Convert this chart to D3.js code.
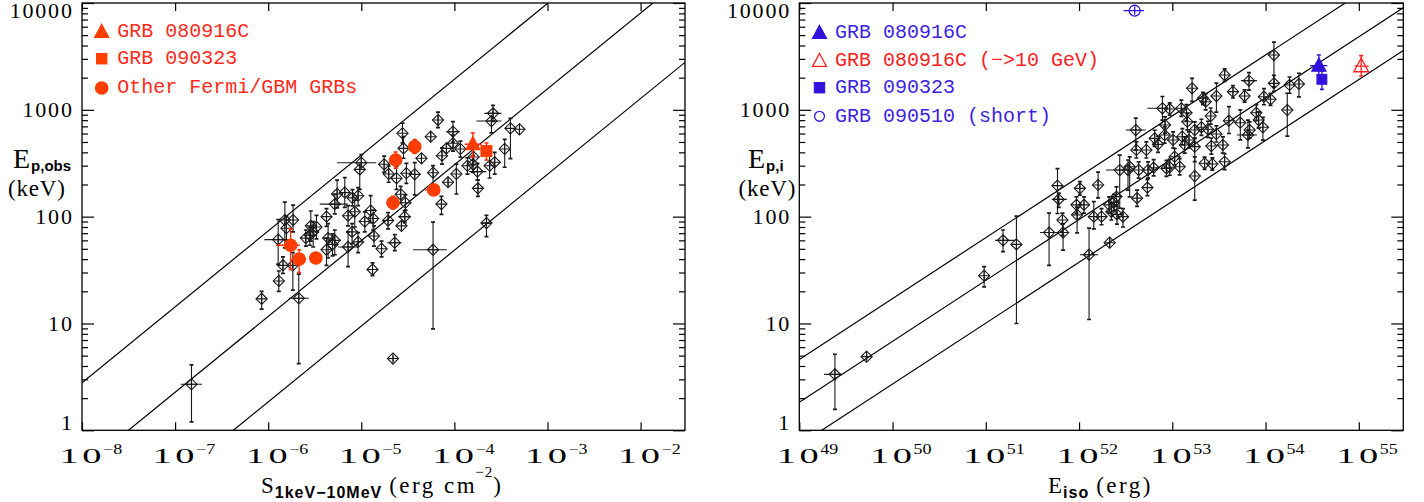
<!DOCTYPE html>
<html><head><meta charset="utf-8">
<script src="https://cdn.jsdelivr.net/npm/d3@7"></script>
<style>body{margin:0;background:#fff}svg{display:block}</style>
</head><body>
<svg id="c" width="1424" height="502"></svg>
<script>
// ---------------- DATA ----------------
// rows: [x, y, yLow, yHigh, xLow, xHigh]  (0 = no x error)
const leftGRBs = [
 [1.5e-7,2.7,1.2,4.1,1.15e-7,1.95e-7],[8.5e-7,17,13.6,20,0,0],[1.3e-6,25,20,31,0,0],[1.44e-6,35,29.5,42,0,0],
 [1.84e-6,35,20.5,46,0,0],[2.13e-6,17.2,4.2,29,1.66e-6,2.73e-6],[1.28e-6,61,36,94,9.1e-7,1.68e-6],[1.51e-6,93,51,137,0,0],
 [1.85e-6,93,72,128,0,0],[1.57e-6,78,60,101,0,0],[2.87e-6,82,59,113,0,0],[3.3e-6,80,62,103,0,0],
 [3.04e-6,72,52,90,0,0],[2.8e-6,67,54,80,0,0],[2.54e-6,63,53,75,0,0],[4.23e-6,100,81,119,0,0],
 [5.19e-6,131,106,162,3.58e-6,7.16e-6],[5.5e-6,163,121,220,0,0],[6.65e-6,168,122,232,0,0],[8.04e-6,150,126,179,0,0],
 [9.24e-6,157,127,187,0,0],[8.51e-6,111,80,143,0,0],[7.21e-6,102,82,127,0,0],[9.63e-6,277,180,310,0,0],
 [1.0e-5,320,288,381,5.5e-6,1.45e-5],[1.76e-5,309,260,368,0,0],[1.97e-5,251,210,298,0,0],[1.26e-5,114,88,157,0,0],
 [1.34e-5,96,75,115,0,0],[1.09e-5,90,72,111,0,0],[1.94e-5,92,77,109,0,0],[7.96e-6,72,56,86,0,0],
 [4.4e-6,63,41,86,0,0],[5.19e-6,60,44,75,0,0],[4.91e-6,55,43,69,0,0],[4.23e-6,49,35,63,0,0],
 [1.37e-5,66,53,82,0,0],[7.21e-6,52,34,72,5.6e-6,9.2e-6],[9.24e-6,58,46,71,0,0],[1.65e-5,50,42,59,0,0],
 [1.32e-5,32,28,37,0,0],[2.19e-5,4.7,4.4,5.05,0,0],
 [2.6e-4,927,780,1100,2.1e-4,3.2e-4],[2.5e-4,785,608,871,1.72e-4,3.2e-4],[6.67e-5,803,680,950,0,0],[9.66e-5,624,500,775,8.1e-5,1.15e-4],
 [2.77e-5,603,490,750,0,0],[5.57e-5,560,505,620,0,0],[4.0e-4,671,350,830,0,0],[5.0e-4,657,615,700,0,0],
 [2.84e-5,436,352,562,0,0],[9.66e-5,486,410,580,0,0],[8.21e-5,436,390,485,0,0],[7.36e-5,372,310,440,0,0],
 [4.43e-5,352,315,390,0,0],[1.16e-4,430,360,510,0,0],[3.47e-4,430,290,530,0,0],[1.38e-4,300,250,355,0,0],
 [1.58e-4,309,260,368,0,0],[1.77e-4,264,220,315,1.45e-4,2.2e-4],[2.39e-4,300,230,390,0,0],[2.71e-4,323,250,400,0,0],
 [5.9e-5,258,200,300,0,0],[1.05e-4,251,163,310,0,0],[8.55e-5,210,190,232,0,0],[3.75e-5,249,160,320,0,0],
 [3.05e-5,255,205,315,0,0],[2.39e-5,229,180,295,0,0],[1.79e-4,184,155,220,0,0],[2.65e-5,162,135,192,0,0],
 [7.26e-5,131,105,155,0,0],[2.98e-5,135,115,160,0,0],[2.93e-5,100,88,114,2.5e-5,3.4e-5],[2.7e-5,82,73,92,0,0],
 [2.21e-4,87,65,103,1.95e-4,2.5e-4],[2.29e-5,57,48,68,1.9e-5,2.7e-5],[5.9e-5,49,8.9,89,3.6e-5,8.3e-5],[1.61e-4,362,305,430,0,0]
];
const leftGBM = [
 [3.75e-5,452,390,525,0,0],[2.34e-5,339,285,403,0,0],[2.19e-5,135,118,155,0,0],[6.0e-5,178,165,195,4.8e-5,7.0e-5],
 [1.74e-6,54,32,77,1.21e-6,2.19e-6],[2.15e-6,40,30,49,1.71e-6,2.58e-6],[3.25e-6,41,38,43.5,0,0]
];
const left080916C = [[1.58e-4,476,362,607,1.29e-4,1.96e-4]];
const left090323  = [[2.21e-4,411,339,489,1.97e-4,2.5e-4]];

const rightGRBs = [
 [2.41e49,3.34,1.57,5.15,1.84e49,2.94e49],[5.27e49,4.89,4.57,5.24,0,0],[9.6e50,28,22,34,0,0],[1.53e51,60,47,75,1.26e51,2.06e51],
 [2.13e51,55,10,101,0,0],[4.77e51,71,35,108,3.82e51,5.96e51],[6.74e51,71,48.5,86,0,0],[5.87e51,195,107,281,0,0],
 [6.06e51,145,122,166,5.1e51,7.4e51],[6.64e51,93,67,108,0,0],[1.02e52,184,159,213,0,0],[9.38e51,129,108,153,0,0],
 [1.13e52,129,108,153,0,0],[9.53e51,104,70.5,123,0,0],[1.6e52,198,150,261,0,0],[1.44e52,100,77,138,0,0],
 [1.74e52,100,84,119,0,0],[1.28e52,44,10.9,78,1.02e52,1.6e52],[2.13e52,57,51,63,0,0],[2.1e52,129,108,153,0,0],
 [2.37e52,136,114,162,0,0],[2.52e52,154,129,190,0,0],[2.22e52,111,93,132,0,0],[2.55e52,105,85,125,0,0],
 [2.96e52,100,80,119,0,0],[2.73e52,273,120,377,1.94e52,3.5e52],[3.35e52,273,177,339,0,0],[3.49e52,293,153,363,0,0],
 [4.36e52,273,229,325,0,0],[5.49e52,273,229,325,0,0],[6.31e52,287,241,342,0,0],[5.41e52,187,157,222,0,0],
 [4.19e52,149,125,177,0,0],[4.06e52,647,420,835,3.17e52,5.2e52],[4.12e52,421,354,501,0,0],[5.27e52,421,354,501,0,0],
 [6.47e52,541,455,644,0,0],[7.03e52,475,399,566,0,0],[8.28e52,581,488,691,0,0],[7.83e52,1033,800,1333,5.4e52,8.85e52],
 [8.65e52,283,238,337,0,0],[8.36e52,721,606,858,0,0],[1.23e54,3260,1640,4300,0,0],[3.64e53,2118,1850,2420,0,0],
 [6.64e53,1875,1530,2230,5.44e53,8.1e53],[1.23e54,1770,1490,2100,0,0],[1.63e53,1590,1200,1970,0,0],[2.97e53,1347,950,1780,0,0],
 [4.47e53,1479,1290,1690,0,0],[5.96e53,1347,1180,1540,0,0],[9.6e53,1327,1115,1580,0,0],[1.13e54,1254,1100,1430,0,0],
 [1.81e54,1708,1430,2030,0,0],[2.28e54,1745,1320,2200,0,0],[2.13e53,1282,1120,1460,0,0],[2.28e53,1191,1000,1420,0,0],
 [9.38e52,1018,890,1160,0,0],[1.25e53,1033,868,1230,0,0],[1.42e53,939,790,1120,0,0],[1.45e53,774,650,921,0,0],
 [2.58e53,875,735,1040,0,0],[4.05e53,791,600,1070,0,0],[5.36e53,757,523,1000,0,0],[7.96e53,939,790,1120,0,0],
 [8.43e53,803,675,955,0,0],[6.75e53,647,544,770,0,0],[6.47e53,581,440,802,4.94e53,8.1e53],[9.37e53,686,520,850,0,0],
 [1.71e54,995,568,1430,0,0],[1.74e53,647,544,770,0,0],[2.05e53,686,577,816,0,0],[2.41e53,657,552,782,0,0],
 [2.97e53,594,500,707,0,0],[1.28e53,560,471,666,0,0],[1.51e53,522,439,621,0,0],[1.02e53,522,439,621,0,0],
 [1.74e53,452,327,538,0,0],[1.36e53,469,394,558,0,0],[2.62e53,458,385,545,0,0],[3.49e53,469,394,558,0,0],
 [1.06e53,364,306,433,0,0],[9.38e52,290,244,345,0,0],[1.2e53,293,246,349,0,0],[2.22e53,316,277,360,0,0],
 [2.69e53,311,273,355,0,0],[3.64e53,327,275,389,0,0],[1.74e53,240,143,362,0,0]
];
const right080916C      = [[3.73e54,2588,2080,3260,3.0e54,4.6e54]];
const right080916C10GeV = [[1.06e55,2570,2074,3210,9.0e54,1.28e55]];
const right090323       = [[4.02e54,1931,1556,2300,0,0]];
const right090510       = [[3.95e52,8470,7750,9260,3.0e52,4.98e52]];

// correlation lines: log Ep = log(norm) + slope*log(x/pivot) + offset
const fitLeft  = {norm:306, pivot:1e-4, slope:0.71, offsets:[-0.8,0,0.8]};
const fitRight = {norm:94,  pivot:1e52, slope:0.57, offsets:[-0.4,0,0.4]};

const yTickValues = [1,10,100,1000,10000];
const yTickLabels = ["1","10","100","1000","10000"];
const xExpLeft  = [-8,-7,-6,-5,-4,-3,-2];
const xExpRight = [49,50,51,52,53,54,55];

const legendLeft = [
  {sym:"tri", fill:true, col:"#ff3d00", text:"GRB 080916C", tcol:"#ff2a1a"},
  {sym:"sq", fill:true, col:"#ff3d00", text:"GRB 090323", tcol:"#ff2a1a"},
  {sym:"circ", fill:true, col:"#ff3d00", text:"Other Fermi/GBM GRBs", tcol:"#ff2a1a"}
];
const legendRight = [
  {sym:"tri", fill:true, col:"#3311dd", text:"GRB 080916C", tcol:"#3d1fe6"},
  {sym:"tri", fill:false, col:"#ff2020", text:"GRB 080916C (\u2212>10 GeV)", tcol:"#ff2020"},
  {sym:"sq", fill:true, col:"#3311dd", text:"GRB 090323", tcol:"#3d1fe6"},
  {sym:"circ", fill:false, col:"#3311dd", text:"GRB 090510 (short)", tcol:"#3d1fe6"}
];

// ---------------- DRAW ----------------
const SERIF = "'Liberation Serif','Times New Roman',serif";
const SANSB = "'Liberation Sans',Arial,sans-serif";
const MONO  = "'Liberation Mono','Courier New',monospace";
const svg = d3.select("#c");
const Y0 = 3, Y1 = 430.3;
const yS = d3.scaleLog().domain([1,1e4]).range([Y1,Y0]);

function triPath(x,y,w,h){return `M${x},${y-h*0.58}L${x+w/2},${y+h*0.42}L${x-w/2},${y+h*0.42}Z`;}
function symbol(g,sym,x,y,fill,col,scale){
  scale = scale||1;
  if(sym==="tri") g.append("path").attr("d",triPath(x,y,14*scale,13*scale))
     .attr("fill",fill?col:"none").attr("stroke",col).attr("stroke-width",1.3);
  else if(sym==="sq") g.append("rect").attr("x",x-5.5*scale).attr("y",y-5.5*scale).attr("width",11*scale).attr("height",11*scale)
     .attr("fill",fill?col:"none").attr("stroke",col).attr("stroke-width",1);
  else g.append("circle").attr("cx",x).attr("cy",y).attr("r",(fill?6.2:5.2)*scale)
     .attr("fill",fill?col:"none").attr("stroke",col).attr("stroke-width",1.3);
}

function panel(cfg){
  const x0 = cfg.x0, x1 = cfg.x1;
  const xS = d3.scaleLog().domain(cfg.xDomain).range([x0,x1]);
  const g = svg.append("g");
  const id = "clip"+cfg.name;
  svg.append("clipPath").attr("id",id).append("rect").attr("x",x0).attr("y",Y0).attr("width",x1-x0).attr("height",Y1-Y0);

  // fit lines
  const fl = cfg.fit;
  const lineG = g.append("g").attr("clip-path",`url(#${id})`);
  const lg = d3.line().x(d=>xS(d[0])).y(d=>yS(d[1]));
  fl.offsets.forEach(off=>{
    const pts = cfg.xDomain.map(xv=>[xv, fl.norm*Math.pow(xv/fl.pivot, fl.slope)*Math.pow(10,off)]);
    lineG.append("path").attr("d",lg(pts)).attr("fill","none").attr("stroke","#000").attr("stroke-width",1.2);
  });

  // axes ticks (inward)
  const majorsX = cfg.xExp.map(e=>Math.pow(10,e));
  const minorsY = [];
  for(let d=1; d<1e4; d*=10) for(let k=2;k<10;k++) minorsY.push(d*k);
  function styleAxis(sel){ sel.select(".domain").remove(); sel.selectAll("line").attr("stroke","#000").attr("stroke-width",1.2); sel.selectAll("text").remove(); }
  g.append("g").attr("transform",`translate(0,${Y1})`).call(d3.axisBottom(xS).tickValues(majorsX).tickSize(-8).tickFormat("")).call(styleAxis);
  g.append("g").attr("transform",`translate(0,${Y0})`).call(d3.axisTop(xS).tickValues(majorsX).tickSize(-8).tickFormat("")).call(styleAxis);
  g.append("g").attr("transform",`translate(${x0},0)`).call(d3.axisLeft(yS).tickValues(yTickValues).tickSize(-12).tickFormat("")).call(styleAxis);
  g.append("g").attr("transform",`translate(${x0},0)`).call(d3.axisLeft(yS).tickValues(minorsY).tickSize(-6).tickFormat("")).call(styleAxis);
  g.append("g").attr("transform",`translate(${x1},0)`).call(d3.axisRight(yS).tickValues(yTickValues).tickSize(-12).tickFormat("")).call(styleAxis);
  g.append("g").attr("transform",`translate(${x1},0)`).call(d3.axisRight(yS).tickValues(minorsY).tickSize(-6).tickFormat("")).call(styleAxis);

  // frame
  g.append("rect").attr("x",x0).attr("y",Y0).attr("width",x1-x0).attr("height",Y1-Y0)
   .attr("fill","none").attr("stroke","#000").attr("stroke-width",1.3);

  // y tick labels
  yTickValues.forEach((v,i)=>{
    let base = yS(v)+7.5;
    base = Math.max(18, Math.min(Y1, base));
    g.append("text").attr("x",x0-8.3).attr("y",base).attr("text-anchor","end")
     .attr("font-family",SERIF).attr("font-size",22).attr("letter-spacing","1.8px").text(yTickLabels[i]);
  });
  // x tick labels 10^e  ("10" centred on the tick, exponent after it)
  cfg.xExp.forEach(e=>{
    const xv = xS(Math.pow(10,e));
    g.append("text").attr("transform",`translate(${xv-22.5},463) scale(1.75,1)`)
     .attr("font-family",SERIF).attr("font-size",22).attr("letter-spacing","2px").text("10");
    const sup = (e<0?"\u2212":"")+Math.abs(e);
    g.append("text").attr("transform",`translate(${xv+21},453.5) scale(1.2,1)`)
     .attr("font-family",SERIF).attr("font-size",15).text(sup);
  });

  // data points
  const pg = g.append("g").attr("clip-path",`url(#${id})`);
  function errBars(data,col,sw,cross){
    data.forEach(d=>{
      const cx = xS(d[0]), cy = yS(d[1]);
      const yl = yS(d[2]), yh = yS(d[3]);
      pg.append("line").attr("x1",cx).attr("x2",cx).attr("y1",yl).attr("y2",yh).attr("stroke",col).attr("stroke-width",sw);
      [yl,yh].forEach(yy=>{ if(Math.abs(yy-cy)>5.5) pg.append("line").attr("x1",cx-2).attr("x2",cx+2).attr("y1",yy).attr("y2",yy).attr("stroke",col).attr("stroke-width",1.7); });
      if(d[4]>0) pg.append("line").attr("x1",xS(d[4])).attr("x2",xS(d[5])).attr("y1",cy).attr("y2",cy).attr("stroke",col).attr("stroke-width",sw);
      if(cross){
        pg.append("line").attr("x1",cx-5.5).attr("x2",cx+5.5).attr("y1",cy).attr("y2",cy).attr("stroke",col).attr("stroke-width",sw);
        pg.append("line").attr("x1",cx).attr("x2",cx).attr("y1",cy-5.5).attr("y2",cy+5.5).attr("stroke",col).attr("stroke-width",sw);
      }
    });
  }
  errBars(cfg.main,"#1a1a1a",1.1,true);
  cfg.main.forEach(d=>{
    const cx = xS(d[0]), cy = yS(d[1]), r = 5.6;
    pg.append("path").attr("d",`M${cx},${cy-r}L${cx+r},${cy}L${cx},${cy+r}L${cx-r},${cy}Z`)
      .attr("fill","none").attr("stroke","#1a1a1a").attr("stroke-width",1.1);
  });
  cfg.specials.forEach(s=>{
    errBars(s.data, s.ecol, 1.3, false);
    s.data.forEach(d=>symbol(pg, s.sym, xS(d[0]), yS(d[1]), s.fill, s.col, s.scale));
  });

  // legend
  cfg.legend.forEach((L,i)=>{
    const ly = cfg.legY[i];
    symbol(g, L.sym, cfg.legX, ly, L.fill, L.col, L.sym==="circ"&&!L.fill?0.95:(L.sym==="sq"?0.95:1));
    g.append("text").attr("x",cfg.legX+15.5).attr("y",ly+5.3).attr("font-family",MONO).attr("font-size",20)
     .attr("fill",L.tcol).text(L.text);
  });

  // axis titles
  const yt = g.append("text").attr("font-family",SERIF);
  yt.append("tspan").attr("x",cfg.ytx).attr("y",167.7).attr("font-size",28).text("E");
  yt.append("tspan").attr("dx",1).attr("y",171).attr("font-family",SANSB).attr("font-weight","bold").attr("font-size",15).text(cfg.ysub);
  g.append("text").attr("x",cfg.ykx).attr("y",196).attr("font-family",SERIF).attr("font-size",23).attr("letter-spacing","0.8px").text("(keV)");

  const xt = g.append("text").attr("font-family",SERIF).attr("font-size",23);
  xt.append("tspan").attr("x",cfg.xtx).attr("y",492.7).text(cfg.xmain);
  xt.append("tspan").attr("dx",1).attr("y",497.5).attr("font-family",SANSB).attr("font-weight","bold").attr("font-size",16).attr("letter-spacing","1px").text(cfg.xsub);
  xt.append("tspan").attr("dx",7).attr("y",492.7).attr("letter-spacing","2.5px").text(cfg.xunit);
  if(cfg.xsup) xt.append("tspan").attr("dx",-2).attr("y",476.5).attr("font-size",15).attr("letter-spacing","1px").text(cfg.xsup);
  if(cfg.xunit2) xt.append("tspan").attr("dx",0).attr("y",492.7).text(cfg.xunit2);
}

panel({name:"L", x0:82, x1:685, xDomain:[1e-8,3e-2], xExp:xExpLeft, fit:fitLeft, main:leftGRBs,
  specials:[
    {data:leftGBM, sym:"circ", fill:true, col:"#ff3d00", ecol:"#ff2a00"},
    {data:left080916C, sym:"tri", fill:true, col:"#ff3d00", ecol:"#ff2a00", scale:1},
    {data:left090323, sym:"sq", fill:true, col:"#ff3d00", ecol:"#ff2a00", scale:1}
  ],
  legend:legendLeft, legX:101.7, legY:[32,58.7,88],
  ytx:13, ysub:"p,obs", ykx:8, xtx:261, xmain:"S", xsub:"1keV\u221210MeV", xunit:"(erg cm", xsup:"\u22122", xunit2:")"
});
panel({name:"R", x0:799.3, x1:1403.3, xDomain:[1e49,3e55], xExp:xExpRight, fit:fitRight, main:rightGRBs,
  specials:[
    {data:right080916C, sym:"tri", fill:true, col:"#3311dd", ecol:"#3311dd", scale:1},
    {data:right090323, sym:"sq", fill:true, col:"#3311dd", ecol:"#3311dd", scale:0.9},
    {data:right080916C10GeV, sym:"tri", fill:false, col:"#ff2020", ecol:"#ff2020", scale:1.05},
    {data:right090510, sym:"circ", fill:false, col:"#3311dd", ecol:"#3311dd", scale:1.05}
  ],
  legend:legendRight, legX:819.5, legY:[33,61,87.7,116.3],
  ytx:748, ysub:"p,i", ykx:738.5, xtx:1048, xmain:"E", xsub:"iso", xunit:"(erg)", xsup:null, xunit2:null
});
</script>
</body></html>
